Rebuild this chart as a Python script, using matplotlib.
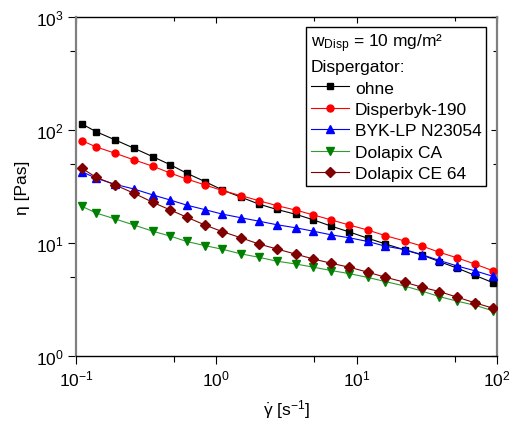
import matplotlib
matplotlib.use("Agg")
import matplotlib.pyplot as plt
from matplotlib.ticker import LogLocator, NullFormatter

# shear rate [1/s]
shear_rate = [0.11, 0.139, 0.19, 0.259, 0.352, 0.468, 0.615, 0.83, 1.1, 1.5, 2.0, 2.69,
              3.7, 4.91, 6.56, 8.87, 12.0, 16.0, 22.0, 29.1, 38.8, 52.1, 70.1, 94.2]

visc_ohne = [113, 96.6, 81.6, 68.9, 58.0, 49.3, 41.4, 34.9, 29.5, 25.4, 22.1, 19.8,
             17.9, 16.0, 14.1, 12.5, 11.0, 9.8, 8.67, 7.83, 6.84, 5.98, 5.15, 4.43]
visc_byk190 = [80.4, 70.8, 62.2, 54.3, 47.8, 41.6, 36.8, 32.6, 29.1, 26.2, 23.7, 21.4,
               19.5, 17.7, 16.0, 14.4, 13.0, 11.6, 10.4, 9.40, 8.27, 7.37, 6.48, 5.65]
visc_byklp = [42.7, 37.4, 33.0, 30.0, 26.6, 24.0, 21.6, 19.7, 18.0, 16.7, 15.6, 14.5,
              13.6, 12.7, 11.8, 11.1, 10.3, 9.36, 8.73, 7.88, 7.0, 6.25, 5.65, 5.05]
visc_dolapix_ca = [21.1, 18.4, 16.3, 14.4, 12.7, 11.5, 10.3, 9.46, 8.8, 8.0, 7.47, 6.9,
                   6.5, 6.1, 5.7, 5.35, 4.95, 4.55, 4.15, 3.75, 3.35, 3.05, 2.8, 2.5]
visc_dolapix_ce64 = [45.8, 38.1, 32.6, 27.5, 22.9, 19.6, 16.9, 14.4, 12.6, 11.1, 9.8, 8.85,
                     7.94, 7.21, 6.61, 6.09, 5.51, 4.97, 4.49, 4.06, 3.71, 3.31, 2.94, 2.64]

labels = ["ohne", "Disperbyk-190", "BYK-LP N23054", "Dolapix CA", "Dolapix CE 64"]

plt.rcParams["font.family"] = ["Liberation Sans", "DejaVu Sans"]
plt.rcParams["mathtext.fontset"] = "custom"
plt.rcParams["mathtext.rm"] = "Liberation Sans"
plt.rcParams["mathtext.it"] = "Liberation Sans"
plt.rcParams["axes.unicode_minus"] = False
plt.rcParams["font.size"] = 12.5


def style_log_axis(axis):
    axis.set_major_locator(LogLocator(base=10, numticks=10))
    axis.set_minor_locator(LogLocator(base=10, subs=[5], numticks=10))
    axis.set_minor_formatter(NullFormatter())


def main():
    fig = plt.figure(figsize=(5.14, 4.39), dpi=100)
    ax = fig.add_axes([0.148, 0.187, 0.819, 0.772])

    series = [
        (visc_ohne, "s", "black", "black", 4.6),
        (visc_byk190, "o", "red", "red", 5.0),
        (visc_byklp, "^", "blue", "blue", 5.4),
        (visc_dolapix_ca, "v", "#008000", "#2f9a2f", 5.4),
        (visc_dolapix_ce64, "D", "#800000", "#800000", 4.6),
    ]
    for (vals, marker, mcolor, lcolor, ms), label in zip(series, labels):
        ax.plot(shear_rate, vals, color=lcolor, lw=0.8, marker=marker, ms=ms,
                mfc=mcolor, mec=mcolor, label=label)

    ax.set_xscale("log")
    ax.set_yscale("log")
    ax.set_xlim(0.1, 100)
    ax.set_ylim(1, 1000)
    style_log_axis(ax.xaxis)
    style_log_axis(ax.yaxis)
    ax.tick_params(which="major", direction="out", length=6, width=0.8, pad=3)
    ax.tick_params(which="minor", direction="out", length=4, width=0.8)

    # mirrored ticks on top / right point inward
    top = ax.secondary_xaxis("top")
    right = ax.secondary_yaxis("right")
    for sec, axis in [(top, top.xaxis), (right, right.yaxis)]:
        style_log_axis(axis)
        sec.tick_params(which="major", direction="in", length=4, width=0.8,
                        labeltop=False, labelright=False)
        sec.tick_params(which="minor", direction="in", length=3, width=0.8)
    top.spines["top"].set_color("black")
    top.spines["top"].set_linewidth(1.0)
    right.spines["right"].set_color("#808080")
    right.spines["right"].set_linewidth(1.6)

    ax.spines["left"].set_color("#808080")
    ax.spines["left"].set_linewidth(1.6)
    ax.spines["right"].set_visible(False)
    ax.spines["top"].set_visible(False)
    ax.spines["bottom"].set_color("black")
    ax.spines["bottom"].set_linewidth(1.0)

    ax.set_xlabel(r"$\dot{\gamma}$ [s$^{\mathrm{-1}}$]", labelpad=6)
    ax.set_ylabel("η [Pas]", labelpad=4)

    leg = ax.legend(title=r"w$_{\mathrm{Disp}}$ = 10 mg/m²" + "\nDispergator:",
                    alignment="left", title_fontsize=12.5, fontsize=12.5,
                    loc="upper right", bbox_to_anchor=(0.974, 0.971),
                    frameon=True, fancybox=False, framealpha=1, edgecolor="black",
                    handlelength=2.2, handletextpad=0.35, borderpad=0.25,
                    labelspacing=0.36, borderaxespad=0)
    leg.get_title().set_linespacing(1.45)
    leg.get_frame().set_linewidth(1.0)

    fig.savefig("out.png", dpi=100)


if __name__ == "__main__":
    main()
